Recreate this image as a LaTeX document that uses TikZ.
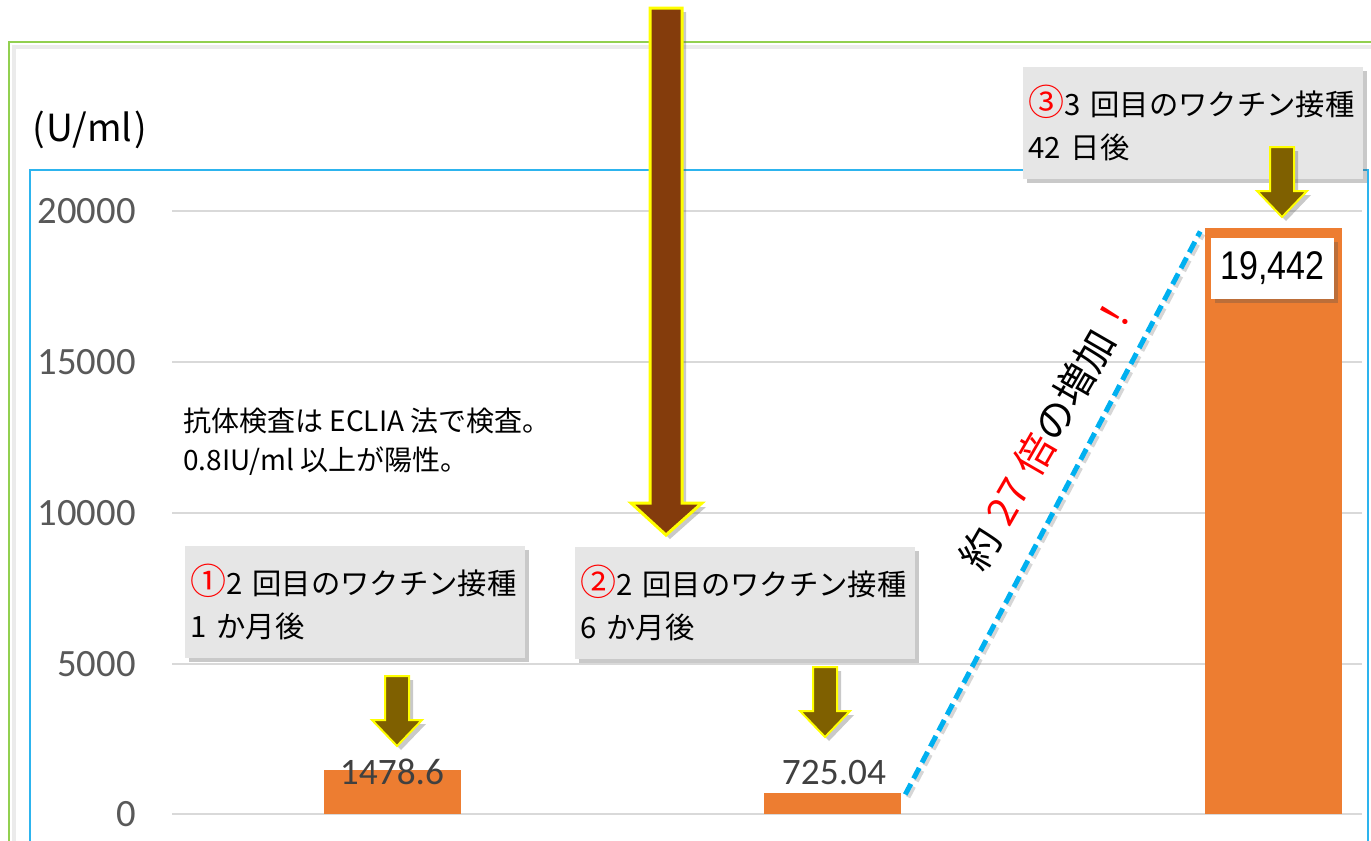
\documentclass[tikz,border=0pt]{standalone}
\usepackage{graphicx}
\usepackage{fontspec}
\setmainfont{Noto Sans CJK JP}
\newfontfamily\numfont{Carlito}
\newfontfamily\arialfont{Liberation Sans}
\usetikzlibrary{shadows}
\definecolor{frgreen}{HTML}{92D050}
\definecolor{frblue}{HTML}{2DB4EE}
\definecolor{dashc}{HTML}{00B0F0}
\definecolor{gridc}{HTML}{D9D9D9}
\definecolor{tickc}{HTML}{595959}
\definecolor{valc}{HTML}{404040}
\definecolor{barc}{HTML}{ED7D31}
\definecolor{boxc}{HTML}{E6E6E6}
\definecolor{brownc}{HTML}{843C0C}
\definecolor{olivec}{HTML}{7F6000}
\definecolor{yel}{HTML}{FFFF00}
\begin{document}
\begin{tikzpicture}[x=0.75pt,y=-0.75pt,
  gridline/.style={draw=gridc, line width=1.5pt},
  ticklab/.style={font=\numfont\fontsize{29pt}{32pt}\selectfont, text=tickc, anchor=east, inner sep=0pt},
  vallab/.style={font=\numfont\fontsize{28pt}{32pt}\selectfont, text=valc, inner sep=0pt},
  barbox/.style={fill=barc, inner sep=0pt, minimum width=102.75pt, anchor=south},
  softshadow/.style={drop shadow={shadow xshift=3pt, shadow yshift=-3pt, opacity=0.3, fill=black!70}},
  callout/.style={fill=boxc, softshadow, anchor=north west, minimum height=84pt, text width=247pt, inner xsep=4pt, align=left, font=\fontsize{22pt}{32pt}\selectfont},
  smallarrow/.style={fill=olivec, draw=yel, line width=1.5pt, line join=miter, softshadow},
  bigarrow/.style={fill=brownc, draw=yel, line width=2.25pt, line join=miter, softshadow},
  dashline/.style={draw=dashc, line width=3.75pt, dash pattern=on 9pt off 4.5pt},
  dashshadow/.style={draw=black!40, opacity=0.4, line width=3.75pt, dash pattern=on 9pt off 4.5pt, transform canvas={shift={(2pt,-2pt)}}},
]
\useasboundingbox (0,0) rectangle (1371,840);
\clip (0,0) rectangle (1371,840);
% frames
\draw[draw=black!8, line width=3pt] (14,850) -- (14,47) -- (1380,47);
\draw[draw=frgreen, line width=2pt] (9,850) -- (9,42) -- (1380,42);
\node[font=\fontsize{28pt}{32pt}\selectfont, anchor=west, inner sep=0pt] (unit) at (32,130) {(\kern1.5pt U/ml\kern1.5pt)};
\draw[draw=frblue, line width=1.5pt] (30,850) -- (30,170) -- (1368,170) -- (1368,850);
% grid and ticks
\foreach \v/\yy in {20000/211,15000/362,10000/513,5000/664,0/814} {
  \draw[gridline] (172,\yy) -- (1362,\yy);
  \node[ticklab] (t\v) at (136,\yy) {\v};
}
% bars
\node[barbox, minimum height=33pt] (bar1) at (392.5,814) {};
\node[barbox, minimum height=15.75pt] (bar2) at (832.5,814) {};
\node[barbox, minimum height=439.5pt] (bar3) at (1273,814) {};
\node[vallab] (v1) at (392,772) {1478.6};
\node[vallab] (v2) at (834,773) {725.04};
% growth line
\draw[dashshadow] ([shift={(4,2)}]bar2.north east) -- ([shift={(-4,4)}]bar3.north west);
\draw[dashline] ([shift={(4,2)}]bar2.north east) -- ([shift={(-4,4)}]bar3.north west);
\node[rotate=60, font=\fontsize{30pt}{34pt}\selectfont, inner sep=0pt] (gain) at (1047,432) {約\hspace{0.3em}{\color{red}27\hspace{0.3em}倍}の増加{\color{red}！}};
% note
\node[anchor=west, align=left, inner sep=0pt, font=\fontsize{21pt}{29pt}\selectfont] (note) at (183,442) {抗体検査は ECLIA 法で検査。\\0.8IU/ml 以上が陽性。};
% callouts
\node[callout] (c1) at (185,546) {{\color{red}\fontsize{27pt}{32pt}\selectfont ①}2 回目のワクチン接種\\1 か月後};
\node[callout] (c2) at (575,547) {{\color{red}\fontsize{27pt}{32pt}\selectfont ②}2 回目のワクチン接種\\6 か月後};
\node[callout] (c3) at (1023,67) {{\color{red}\fontsize{27pt}{32pt}\selectfont ③}3 回目のワクチン接種\\42 日後};
% small arrows
\foreach \cx/\ty in {397/676, 825/667, 1282/147}
  \path[smallarrow, shift={(\cx,\ty)}] (-12,0) -- (12,0) -- (12,44) -- (25,44) -- (0,70) -- (-25,44) -- (-12,44) -- cycle;
% result box
\node[fill=white, softshadow, minimum width=92.25pt, minimum height=45.75pt, inner sep=0pt, font=\arialfont\fontsize{30pt}{32pt}\selectfont] (res) at (1272.5,268.5) {\scalebox{0.85}[1]{19,442}};
% big arrow
\path[bigarrow] (650,8) -- (682,8) -- (682,503) -- (702,503) -- (666,535) -- (631,503) -- (650,503) -- cycle;
\end{tikzpicture}
\end{document}
